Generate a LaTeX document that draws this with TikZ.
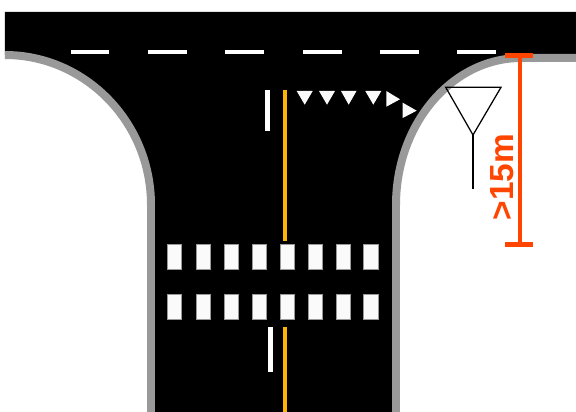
\documentclass[tikz,border=0pt]{standalone}
\usepackage{fontspec}
\setsansfont{Liberation Sans}
\definecolor{curbgray}{HTML}{999999}
\definecolor{laneyellow}{HTML}{FFB400}
\definecolor{signred}{HTML}{FF4500}
\definecolor{markwhite}{HTML}{FAFAFA}
\tikzset{
	curb/.style={draw=curbgray,line width=0.16cm},
	dashmark/.style={draw=none,fill=white},
	zebra/.style={draw=curbgray,line width=0.01cm,fill=markwhite},
	yieldmark/.style={draw=none,fill=markwhite},
	centerline/.style={draw=laneyellow,line width=0.09cm},
	stopline/.style={draw=white,line width=0.095cm},
	dimline/.style={draw=signred,line width=0.085cm}
}
\begin{document}
\begin{tikzpicture}[x=0.02cm,y=-0.02cm]
	\useasboundingbox (0,0) rectangle (576,412);
	% road surface
	\fill[black] (5,12) -- (576,12) -- (576,58) -- (521,58) .. controls (452,58) and (396,124) .. (396,205) -- (396,412) -- (151,412) -- (151,205) .. controls (151,122) and (85,55) .. (5,55) -- cycle;
	% curbs
	\draw[curb] (5,55) .. controls (85,55) and (151,122) .. (151,205) -- (151,412);
	\draw[curb] (576,58) -- (521,58) .. controls (452,58) and (396,124) .. (396,205) -- (396,412);
	% dashed line on the main road
	\fill[dashmark] (70.5,50.5) rectangle (109,54.5);
	\fill[dashmark] (148,50.5) rectangle (186.5,54.5);
	\fill[dashmark] (225,50.5) rectangle (264,54.5);
	\fill[dashmark] (303,50.5) rectangle (341.5,54.5);
	\fill[dashmark] (379.5,50.5) rectangle (419,54.5);
	\fill[dashmark] (457,50.5) rectangle (495.5,54.5);
	% centre and edge lines
	\draw[centerline] (285,90) -- (285,241);
	\draw[centerline] (285,327) -- (285,412);
	\draw[stopline] (267.5,90) -- (267.5,131);
	\draw[stopline] (270.2,327) -- (270.2,372.5);
	% crossing, upper row
	\filldraw[zebra] (167.5,244) rectangle (181.5,269.5);
	\filldraw[zebra] (196,244) rectangle (210.5,269.5);
	\filldraw[zebra] (224,244) rectangle (238.5,269.5);
	\filldraw[zebra] (252,244) rectangle (266,269.5);
	\filldraw[zebra] (280,244) rectangle (294,269.5);
	\filldraw[zebra] (308,244) rectangle (322,269.5);
	\filldraw[zebra] (336,244) rectangle (350,269.5);
	\filldraw[zebra] (363.5,244) rectangle (378.5,269.5);
	% crossing, lower row
	\filldraw[zebra] (167.5,294.5) rectangle (181.5,319.5);
	\filldraw[zebra] (196,294.5) rectangle (210.5,319.5);
	\filldraw[zebra] (224,294.5) rectangle (238.5,319.5);
	\filldraw[zebra] (252,294.5) rectangle (266,319.5);
	\filldraw[zebra] (280,294.5) rectangle (294,319.5);
	\filldraw[zebra] (308,294.5) rectangle (322,319.5);
	\filldraw[zebra] (336,294.5) rectangle (350,319.5);
	\filldraw[zebra] (363.5,294.5) rectangle (378.5,319.5);
	% yield triangles
	\fill[yieldmark] (296.7,91) -- (312.7,91) -- (304.7,104.7) -- cycle;
	\fill[yieldmark] (319,91) -- (335,91) -- (327,104.7) -- cycle;
	\fill[yieldmark] (341,91) -- (356.5,91) -- (348.7,104.7) -- cycle;
	\fill[yieldmark] (365.3,91) -- (381.3,91) -- (373.3,104.7) -- cycle;
	\fill[yieldmark] (386.3,91) -- (386.3,106.7) -- (400,99.3) -- cycle;
	\fill[yieldmark] (402.7,102.7) -- (402.7,118) -- (416.7,110.7) -- cycle;
	% sign
	\draw[black,line width=0.025cm] (445.7,87.3) -- (501,87.3) -- (473,135) -- cycle;
	\draw[black,line width=0.035cm] (473,135) -- (473,188.7);
	% distance
	\draw[dimline] (520,55.3) -- (520,244.4);
	\draw[dimline,line width=0.1cm] (505,55.3) -- (533,55.3);
	\draw[dimline,line width=0.1cm] (505,244.4) -- (533,244.4);
	\node[rotate=90,anchor=base,text=signred,font=\sffamily\bfseries\fontsize{19}{19}\selectfont,inner sep=0pt] (dist) at (513,177) {>15m};
\end{tikzpicture}
\end{document}
